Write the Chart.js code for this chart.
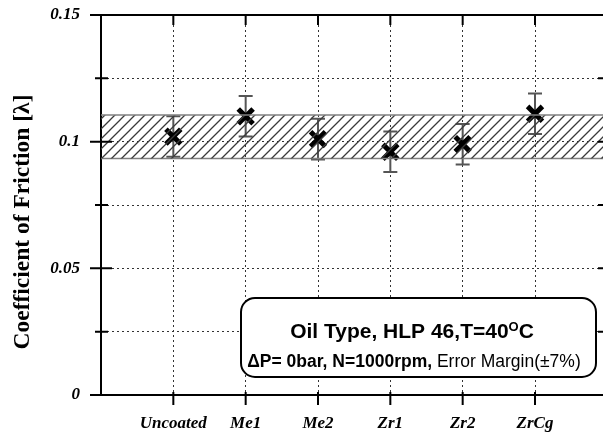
<!DOCTYPE html>
<html>
<head>
<meta charset="utf-8">
<script src="https://cdn.jsdelivr.net/npm/chart.js@4.4.1/dist/chart.umd.min.js"></script>
<style>
  html, body { margin: 0; padding: 0; background: #fff; }
  #wrap { width: 603px; height: 440px; }
</style>
</head>
<body>
<div id="wrap"><canvas id="myChart" width="603" height="440"></canvas></div>
<script>
// data
const coatings = ['Uncoated', 'Me1', 'Me2', 'Zr1', 'Zr2', 'ZrCg'];
const friction = [0.102, 0.110, 0.101, 0.096, 0.099, 0.111];
const errLow   = [0.094, 0.102, 0.093, 0.088, 0.091, 0.103];
const errHigh  = [0.110, 0.118, 0.109, 0.104, 0.107, 0.119];
const bandLow  = 0.0934;
const bandHigh = 0.1105;
const yTicks   = [0, 0.025, 0.05, 0.075, 0.1, 0.125, 0.15];
const yLabels  = ['0', '', '0.05', '', '0.1', '', '0.15'];
const xMax = 6.94;

const canvas = document.getElementById('myChart');
const mainCtx = canvas.getContext('2d');

// diagonal hatch for the error band
function makeHatch() {
  const c = document.createElement('canvas');
  c.width = 10; c.height = 10;
  const g = c.getContext('2d');
  g.strokeStyle = '#3a3a3a';
  g.lineWidth = 1.3;
  g.beginPath();
  g.moveTo(-2, 12); g.lineTo(12, -2);
  g.moveTo(-2, 2); g.lineTo(2, -2);
  g.moveTo(8, 12); g.lineTo(12, 8);
  g.stroke();
  return mainCtx.createPattern(c, 'repeat');
}

const points = friction.map((v, i) => ({x: i + 1, y: v}));

const errorBars = {
  id: 'errorBars',
  beforeDatasetDraw(chart, args) {
    if (args.index !== 2) return;
    const {ctx, scales: {x, y}} = chart;
    ctx.save();
    ctx.strokeStyle = '#555';
    ctx.lineWidth = 2;
    ctx.beginPath();
    for (let i = 0; i < friction.length; i++) {
      const px = x.getPixelForValue(i + 1);
      const lo = y.getPixelForValue(errLow[i]);
      const hi = y.getPixelForValue(errHigh[i]);
      ctx.moveTo(px, lo); ctx.lineTo(px, hi);
      ctx.moveTo(px - 7, lo); ctx.lineTo(px + 7, lo);
      ctx.moveTo(px - 7, hi); ctx.lineTo(px + 7, hi);
    }
    ctx.stroke();
    ctx.restore();
  }
};

const frame = {
  id: 'frame',
  afterDraw(chart) {
    const {ctx, chartArea: {left, right, top, bottom}, scales: {x, y}} = chart;
    ctx.save();
    ctx.strokeStyle = '#000';
    ctx.lineWidth = 2;
    ctx.beginPath();
    // top border
    ctx.moveTo(left - 11, top); ctx.lineTo(right, top);
    // y ticks crossing the axis
    yTicks.forEach((v, i) => {
      const py = y.getPixelForValue(v);
      if (i % 2 === 0) { ctx.moveTo(left - 11, py); ctx.lineTo(left + 11, py); }
      else { ctx.moveTo(left - 6, py); ctx.lineTo(left + 7, py); }
      ctx.moveTo(right - 5, py); ctx.lineTo(right, py);
    });
    // x ticks, bottom and top
    coatings.forEach((c, i) => {
      const px = x.getPixelForValue(i + 1);
      ctx.moveTo(px, bottom - 3); ctx.lineTo(px, bottom + 10);
      ctx.moveTo(px, top); ctx.lineTo(px, top + 10);
    });
    ctx.stroke();

    // y axis title
    ctx.save();
    ctx.translate(23, 222);
    ctx.rotate(-Math.PI / 2);
    ctx.font = 'bold 23.5px "Liberation Serif"';
    ctx.fillStyle = '#000';
    ctx.textAlign = 'center';
    ctx.textBaseline = 'middle';
    ctx.fillText('Coefficient of Friction [λ]', 0, 0);
    ctx.restore();

    // info box
    ctx.beginPath();
    ctx.roundRect(241, 298, 355, 79, 14);
    ctx.fillStyle = '#fff';
    ctx.fill();
    ctx.lineWidth = 2;
    ctx.strokeStyle = '#000';
    ctx.stroke();

    ctx.fillStyle = '#000';
    ctx.textBaseline = 'alphabetic';
    ctx.textAlign = 'left';
    const big = 'bold 21px "Liberation Sans"';
    const sup = 'bold 13px "Liberation Sans"';
    const t1 = 'Oil Type, HLP 46,T=40', t2 = 'O', t3 = 'C';
    ctx.font = big; const w1 = ctx.measureText(t1).width, w3 = ctx.measureText(t3).width;
    ctx.font = sup; const w2 = ctx.measureText(t2).width;
    let sx = 412 - (w1 + w2 + w3) / 2;
    ctx.font = big; ctx.fillText(t1, sx, 338); sx += w1;
    ctx.font = sup; ctx.fillText(t2, sx, 331); sx += w2;
    ctx.font = big; ctx.fillText(t3, sx, 338);

    const b = 'bold 17.5px "Liberation Sans"', n = '17.5px "Liberation Sans"';
    const s1 = 'ΔP= 0bar, N=1000rpm,', s2 = ' Error Margin(±7%)';
    ctx.font = b; const v1 = ctx.measureText(s1).width;
    ctx.font = n; const v2 = ctx.measureText(s2).width;
    let tx = 414 - (v1 + v2) / 2;
    ctx.font = b; ctx.fillText(s1, tx, 367);
    ctx.font = n; ctx.fillText(s2, tx + v1, 367);
    ctx.restore();
  }
};

const tickFont = {family: '"Liberation Serif"', size: 17, weight: 'bold', style: 'italic'};

const config = {
  data: {
    datasets: [
      {
        type: 'line',
        label: 'band high',
        data: [{x: 0, y: bandHigh}, {x: xMax, y: bandHigh}],
        borderColor: '#808080',
        borderWidth: 1.5,
        pointRadius: 0,
        fill: '+1',
        backgroundColor: makeHatch()
      },
      {
        type: 'line',
        label: 'band low',
        data: [{x: 0, y: bandLow}, {x: xMax, y: bandLow}],
        borderColor: '#808080',
        borderWidth: 1.5,
        pointRadius: 0,
        fill: false
      },
      {
        type: 'scatter',
        label: 'Coefficient of friction',
        data: points,
        pointStyle: 'crossRot',
        pointRadius: 10.5,
        pointBorderWidth: 5,
        borderColor: '#000',
        backgroundColor: '#000'
      }
    ]
  },
  options: {
    responsive: false,
    animation: false,
    layout: {autoPadding: false, padding: {top: 15, right: 0, left: 0, bottom: 0}},
    plugins: {
      legend: {display: false},
      tooltip: {enabled: false}
    },
    scales: {
      x: {
        type: 'linear',
        min: 0,
        max: xMax,
        afterBuildTicks(scale) {
          scale.ticks = coatings.map((c, i) => ({value: i + 1}));
        },
        afterFit(scale) {
          scale.height = 45;
          scale.paddingLeft = 0;
          scale.paddingRight = 0;
        },
        ticks: {
          autoSkip: false,
          maxRotation: 0,
          padding: 18,
          color: '#000',
          font: tickFont,
          callback: (v, i) => coatings[i]
        },
        grid: {color: '#333', lineWidth: 1, drawTicks: false},
        border: {display: true, color: '#000', width: 2, dash: [2, 3]}
      },
      y: {
        min: 0,
        max: 0.15,
        afterBuildTicks(scale) {
          scale.ticks = yTicks.map(v => ({value: v}));
        },
        afterFit(scale) {
          scale.width = 101;
          scale.paddingTop = 0;
          scale.paddingBottom = 0;
        },
        ticks: {
          padding: 21,
          color: '#000',
          font: tickFont,
          callback: (v, i) => yLabels[i]
        },
        grid: {color: '#333', lineWidth: 1, drawTicks: false},
        border: {display: true, color: '#000', width: 2, dash: [2, 3]}
      }
    }
  },
  plugins: [errorBars, frame]
};

const myChart = new Chart(canvas, config);
</script>
</body>
</html>
